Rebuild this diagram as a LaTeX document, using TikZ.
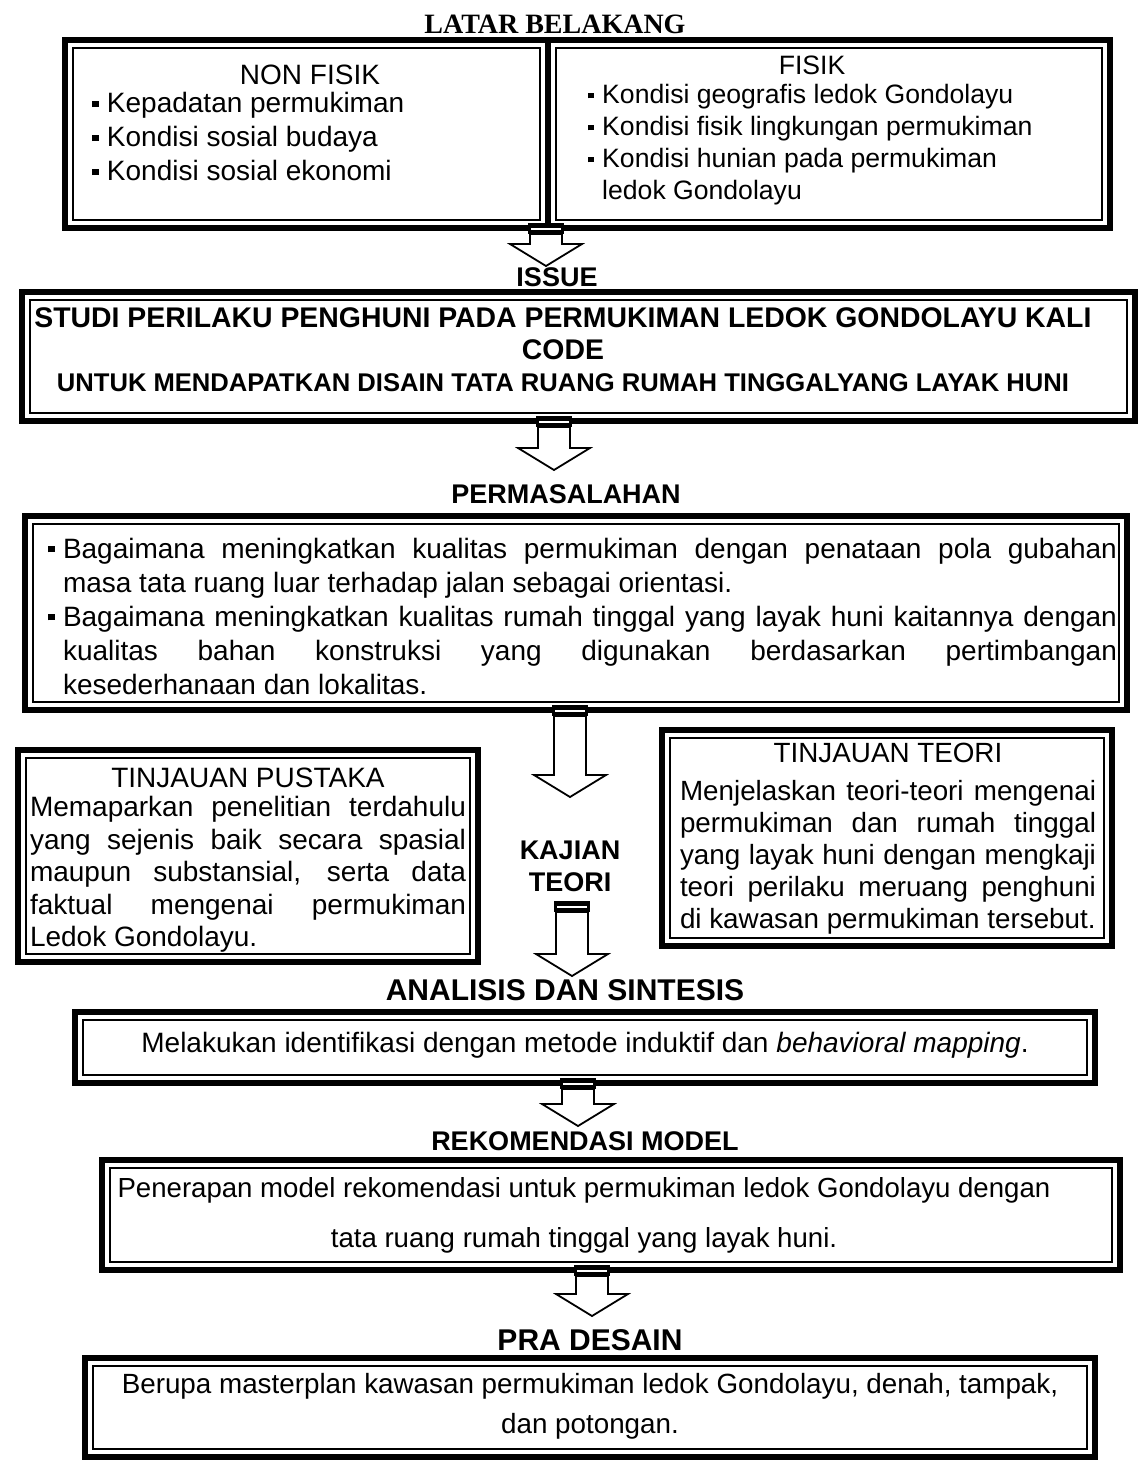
\documentclass[tikz,border=0pt]{standalone}
\usepackage{fontspec}
\setmainfont{Liberation Sans}
\newfontfamily\serifbf{Liberation Serif}
\usetikzlibrary{calc,fit}

\newcommand{\sqbul}{\raisebox{0.2em}{\rule{0.22em}{0.22em}}\hspace{0.3em}}
% hollow block arrow with a dark cap, from #1 (cap) to #2 (tip)
\newcommand{\hollowarrow}[2]{%
  \draw[fill=white, line width=0.9pt]
    ($(#1)+(-16,6)$) -- ($(#2)+(-16,-22)$) -- ($(#2)+(-36,-22)$) -- (#2)
    -- ($(#2)+(36,-22)$) -- ($(#2)+(16,-22)$) -- ($(#1)+(16,6)$) -- cycle;
  \fill ($(#1)+(-18,-5)$) rectangle ($(#1)+(18,6)$);
  \draw[white, line width=0.8pt] ($(#1)+(-15,1)$) -- ($(#1)+(15,1)$);
}

\begin{document}
\begin{tikzpicture}[x=0.5pt, y=-0.5pt,
  frame/.style={draw, line width=2.6pt, inner sep=0pt,
    path picture={\draw[line width=0.6pt]
      ([shift={(4pt,-4pt)}]path picture bounding box.north west) rectangle
      ([shift={(-4pt,4pt)}]path picture bounding box.south east);}},
  head/.style={font=\bfseries\fontsize{13.5}{16}\selectfont, inner sep=0pt, align=center},
  body/.style={font=\fontsize{14}{17}\selectfont, inner sep=0pt, align=left},
  para/.style={font=\fontsize{14}{16.25}\selectfont, inner sep=0pt, align=justify},
  cbody/.style={font=\fontsize{14}{17}\selectfont, inner sep=0pt, align=center}
]
\useasboundingbox (0,0) rectangle (1140,1462);

% latar belakang
\node[font=\serifbf\bfseries\fontsize{14}{16}\selectfont] (latar) at (555,24) {LATAR BELAKANG};
\node[frame, fit={(65,40) (548,228)}] (nonfisik) {};
\node[frame, fit={(548,40) (1110,228)}] (fisik) {};
\node[body] (nonfisikttl) at (310,75) {NON FISIK};
\node[body, anchor=north west] (nonfisiklist) at (92,92)
  {\sqbul Kepadatan permukiman\\ \sqbul Kondisi sosial budaya\\ \sqbul Kondisi sosial ekonomi};
\node[body, font=\fontsize{13.3}{16}\selectfont] (fisikttl) at (812,65) {FISIK};
\node[body, anchor=north west, font=\fontsize{13.3}{16}\selectfont] (fisiklist) at (588,84)
  {\sqbul Kondisi geografis ledok Gondolayu\\ \sqbul Kondisi fisik lingkungan permukiman\\
   \sqbul Kondisi hunian pada permukiman\\ \phantom{\sqbul}ledok Gondolayu};

% issue
\coordinate (a1s) at (546,228);
\coordinate (a1e) at (546,266);
\hollowarrow{a1s}{a1e}
\node[head] (issue) at (557,277) {ISSUE};
\node[frame, fit={(22,292) (1135,421)}] (issuebox) {};
\node[head, font=\bfseries\fontsize{14.2}{16}\selectfont] (issuetxt) at (563,350)
  {STUDI PERILAKU PENGHUNI PADA PERMUKIMAN LEDOK GONDOLAYU KALI\\CODE\\
   {\fontsize{12.8}{16}\selectfont UNTUK MENDAPATKAN DISAIN TATA RUANG RUMAH TINGGALYANG LAYAK HUNI}};

% permasalahan
\coordinate (a2s) at (554,421);
\coordinate (a2e) at (554,470);
\hollowarrow{a2s}{a2e}
\node[head] (permasalahan) at (566,494) {PERMASALAHAN};
\node[frame, fit={(25,516) (1127,710)}] (permbox) {};
\node[para, font=\fontsize{14}{17}\selectfont, text width=527pt] (permtxt) at (590,616)
  {\leavevmode\llap{\sqbul}Bagaimana meningkatkan kualitas permukiman dengan penataan pola gubahan\linebreak
   masa tata ruang luar terhadap jalan sebagai orientasi.\par
   \leavevmode\llap{\sqbul}Bagaimana meningkatkan kualitas rumah tinggal yang layak huni kaitannya dengan\linebreak
   kualitas bahan konstruksi yang digunakan berdasarkan pertimbangan\linebreak
   kesederhanaan dan lokalitas.};

% kajian teori
\coordinate (a3s) at (570,710);
\coordinate (a3e) at (570,797);
\hollowarrow{a3s}{a3e}
\node[frame, fit={(18,750) (478,962)}] (pustaka) {};
\node[para, text width=218pt] (pustakatxt) at (248,860)
  {{\centering TINJAUAN PUSTAKA\par}\vspace{-1.5pt}
   Memaparkan penelitian terdahulu\linebreak
   yang sejenis baik secara spasial\linebreak
   maupun substansial, serta data\linebreak
   faktual mengenai permukiman\linebreak
   Ledok Gondolayu.};
\node[frame, fit={(662,730) (1112,946)}] (teori) {};
\node[para, font=\fontsize{13.9}{16}\selectfont, text width=208pt] (teoritxt) at (888,839)
  {{\centering TINJAUAN TEORI\par}\vspace{3pt}
   Menjelaskan teori-teori mengenai\linebreak
   permukiman dan rumah tinggal\linebreak
   yang layak huni dengan mengkaji\linebreak
   teori perilaku meruang penghuni\linebreak
   di kawasan permukiman tersebut.};
\node[head] (kajian) at (570,866) {KAJIAN\\TEORI};

% analisis dan sintesis
\coordinate (a4s) at (572,906);
\coordinate (a4e) at (572,976);
\hollowarrow{a4s}{a4e}
\node[head, font=\bfseries\fontsize{15}{17}\selectfont] (analisislbl) at (565,990) {ANALISIS DAN SINTESIS};
\node[frame, fit={(75,1012) (1095,1083)}] (analisis) {};
\node[cbody] (analisistxt) at (585,1045)
  {Melakukan identifikasi dengan metode induktif dan \textit{behavioral mapping}.};

% rekomendasi model
\coordinate (a5s) at (578,1083);
\coordinate (a5e) at (578,1126);
\hollowarrow{a5s}{a5e}
\node[head] (rekomlbl) at (585,1141) {REKOMENDASI MODEL};
\node[frame, fit={(102,1160) (1120,1270)}] (rekom) {};
\node[cbody, font=\fontsize{13.8}{25}\selectfont] (rekomtxt) at (584,1215)
  {Penerapan model rekomendasi untuk permukiman ledok Gondolayu dengan\\
   tata ruang rumah tinggal yang layak huni.};

% pra desain
\coordinate (a6s) at (592,1270);
\coordinate (a6e) at (592,1316);
\hollowarrow{a6s}{a6e}
\node[head, font=\bfseries\fontsize{15}{17}\selectfont] (pralbl) at (590,1340) {PRA DESAIN};
\node[frame, fit={(85,1358) (1095,1457)}] (pradesain) {};
\node[cbody, font=\fontsize{13.9}{20}\selectfont] (pratxt) at (590,1406)
  {Berupa masterplan kawasan permukiman ledok Gondolayu, denah, tampak,\\
   dan potongan.};
\end{tikzpicture}
\end{document}
